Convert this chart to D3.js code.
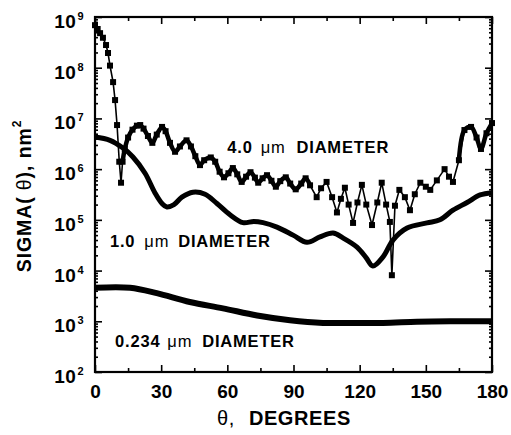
<!DOCTYPE html>
<html><head><meta charset="utf-8">
<script src="https://cdn.jsdelivr.net/npm/d3@7"></script>
<style>
html,body{margin:0;padding:0;background:#fff;}
svg{display:block;}
text{font-family:"Liberation Sans",Arial,Helvetica,sans-serif;fill:#000;}
</style></head>
<body>
<svg id="chart" width="511" height="435"></svg>
<script>
// ---- data ----
const angles4 = [0,1.2,2.3,3.6,5.0,5.9,6.8,8.2,9.1,10.0,11.0,11.8,12.5,13.5,15,17,19,20.5,22,24,26,28,30.4,32,34,36.3,38.5,41.5,43.5,45.5,47.6,49.5,52.5,54.5,56.5,58.5,60.5,62.5,64.5,66.5,68.5,70.5,72.5,74,76,78,80,82,84,86.5,88.5,91,93.5,95.5,97.5,100.5,102.5,105,107.5,109.7,111.5,113.3,115,117,119,121,123,125.6,128,130,132,133.7,134.6,136,138,140.5,142.8,145,147.5,150,152,155,158.5,160.5,162.3,165,167.5,170.5,173,175,177.5,180];
const sigma4 = [6.9e8,5.8e8,4.8e8,3.9e8,2.8e8,1.95e8,1.1e8,5.2e7,2.3e7,7.4e6,1.4e6,5.4e5,1.4e6,2.5e6,4.2e6,6.0e6,7.2e6,7.4e6,6.3e6,4.5e6,3.3e6,4.8e6,6.8e6,5.6e6,3.3e6,2.2e6,2.8e6,3.7e6,2.8e6,1.8e6,1.2e6,1.5e6,1.7e6,1.4e6,8.9e5,6.9e5,8.3e5,1.05e6,7.9e5,5.6e5,7.1e5,8.7e5,6.8e5,5.4e5,6.6e5,7.6e5,5.9e5,4.5e5,5.8e5,6.9e5,5.2e5,4.0e5,5.2e5,6.6e5,4.8e5,2.8e5,4.2e5,5.6e5,2.8e5,1.4e5,2.6e5,4.3e5,2.0e5,8.7e4,2.2e5,4.9e5,2.0e5,7.9e4,2.2e5,5.4e5,2.0e5,9.1e4,8.1e3,1.9e5,3.9e5,2.8e5,1.55e5,3.2e5,5.4e5,4.5e5,3.9e5,6.0e5,1.0e6,7.1e5,5.6e5,1.5e6,5.9e6,6.8e6,4.2e6,2.5e6,5.1e6,8.1e6];

const angles1 = [0,6.8,12.7,17.2,22.7,27.2,30.4,32.6,35.8,39.4,44.4,49.9,55.3,61.2,67.1,72,76.2,82.5,89.8,96.1,102,107.9,112.4,118.8,122.9,126,130.6,135.1,141.5,150.5,156.4,162.3,168.7,174.6,180];
const sigma1 = [4.3e6,3.7e6,2.6e6,1.74e6,8.3e5,3.4e5,2.1e5,1.8e5,2.0e5,2.8e5,3.5e5,3.2e5,2.1e5,1.26e5,8.8e4,9.3e4,8.8e4,7.2e4,5.0e4,3.6e4,4.6e4,5.5e4,4.4e4,2.9e4,1.8e4,1.23e4,1.86e4,4.0e4,6.9e4,8.7e4,1.0e5,1.55e5,2.2e5,3.1e5,3.4e5];

const angles0 = [0,15.9,28,43,58,73.5,88.4,103.4,115.6,130.6,146,161,180];
const sigma0 = [4600,4600,3600,2400,1800,1300,1050,930,930,930,980,1000,1000];

const xMajor = [0,30,60,90,120,150,180];
const xMinor = [15,45,75,105,135,165];
const yExponents = [2,3,4,5,6,7,8,9];

const labels = [
  {num:"4.0", deg:60.0, val:Math.pow(10,6.32), g1:8, g2:11},
  {num:"1.0", deg:6.8, val:Math.pow(10,4.46), g1:9, g2:9},
  {num:"0.234", deg:9.1, val:Math.pow(10,2.49), g1:7, g2:10}
];

// ---- layout ----
const W = 511, H = 435;
const m = {left:95, top:17, right:19, bottom:63};
const svg = d3.select("#chart");
const x = d3.scaleLinear().domain([0,180]).range([m.left, W - m.right]);
const y = d3.scaleLog().domain([1e2,1e9]).range([H - m.bottom, m.top]);

const yMajor = yExponents.map(e => Math.pow(10,e));
const yMinor = [];
for (let e = 2; e < 9; e++) for (let k = 2; k <= 9; k++) yMinor.push(k*Math.pow(10,e));

function styleAxis(g){
  g.select(".domain").remove();
  g.selectAll(".tick line").attr("stroke","#000").attr("stroke-width",1.6);
}

// bottom axis
svg.append("g").attr("transform",`translate(0,${H-m.bottom})`)
  .call(d3.axisBottom(x).tickValues(xMajor).tickSizeInner(-7).tickSizeOuter(0).tickPadding(13).tickFormat(d3.format("d")))
  .call(styleAxis)
  .call(g => g.selectAll(".tick text").attr("font-size",19).attr("font-weight","bold"));
svg.append("g").attr("transform",`translate(0,${H-m.bottom})`)
  .call(d3.axisBottom(x).tickValues(xMinor).tickSizeInner(-4).tickSizeOuter(0).tickFormat(""))
  .call(styleAxis);
// top axis
svg.append("g").attr("transform",`translate(0,${m.top})`)
  .call(d3.axisTop(x).tickValues(xMajor).tickSizeInner(-7).tickSizeOuter(0).tickFormat(""))
  .call(styleAxis);
svg.append("g").attr("transform",`translate(0,${m.top})`)
  .call(d3.axisTop(x).tickValues(xMinor).tickSizeInner(-4).tickSizeOuter(0).tickFormat(""))
  .call(styleAxis);

// left axis
const gl = svg.append("g").attr("transform",`translate(${m.left},0)`)
  .call(d3.axisLeft(y).tickValues(yMajor).tickSizeInner(-7).tickSizeOuter(0).tickPadding(11).tickFormat(""))
  .call(styleAxis);
gl.selectAll(".tick text").each(function(d){
  const t = d3.select(this);
  t.attr("font-size",19).attr("font-weight","bold").attr("dy","0.55em").attr("letter-spacing",0.5);
  t.text("10");
  t.append("tspan").attr("font-size",11).attr("dy",-8).attr("dx",1).text(Math.round(Math.log10(d)));
});
svg.append("g").attr("transform",`translate(${m.left},0)`)
  .call(d3.axisLeft(y).tickValues(yMinor).tickSizeInner(-3).tickSizeOuter(0).tickFormat(""))
  .call(styleAxis);
// right axis
svg.append("g").attr("transform",`translate(${W-m.right},0)`)
  .call(d3.axisRight(y).tickValues(yMajor).tickSizeInner(-7).tickSizeOuter(0).tickFormat(""))
  .call(styleAxis);
svg.append("g").attr("transform",`translate(${W-m.right},0)`)
  .call(d3.axisRight(y).tickValues(yMinor).tickSizeInner(-3).tickSizeOuter(0).tickFormat(""))
  .call(styleAxis);

// frame
svg.append("rect").attr("x",m.left).attr("y",m.top)
  .attr("width",W-m.left-m.right).attr("height",H-m.top-m.bottom)
  .attr("fill","none").attr("stroke","#000").attr("stroke-width",2.2);

// ---- curves ----
const line = d3.line().x(d => x(d[0])).y(d => y(d[1])).curve(d3.curveCatmullRom.alpha(0.5));
const d0 = angles0.map((a,i)=>[a,sigma0[i]]);
const d1 = angles1.map((a,i)=>[a,sigma1[i]]);
const d4 = angles4.map((a,i)=>[a,sigma4[i]]);

const plot = svg.append("g");
plot.append("path").datum(d0).attr("d",line).attr("fill","none").attr("stroke","#000").attr("stroke-width",6);
plot.append("path").datum(d1).attr("d",line).attr("fill","none").attr("stroke","#000").attr("stroke-width",5);

// 4.0 um: thin connecting line through every point, dense marker band where points crowd
const line4 = d3.line().x(d => x(d[0])).y(d => y(d[1]));
plot.append("path").datum(d4).attr("d",line4).attr("fill","none").attr("stroke","#000").attr("stroke-width",1.6);
const bands = [d4.filter(d => d[0] >= 12.5 && d[0] <= 97.5), d4.filter(d => d[0] >= 165)];
bands.forEach(b => {
  plot.append("path").datum(b).attr("d",line).attr("fill","none").attr("stroke","#000")
    .attr("stroke-width",4.5).attr("stroke-linejoin","round");
});
const sq = 6;
plot.selectAll("rect.m4").data(d4).join("rect").attr("class","m4")
  .attr("x",d => x(d[0]) - sq/2).attr("y",d => y(d[1]) - sq/2)
  .attr("width",sq).attr("height",sq).attr("fill","#000");

// ---- series labels ----
labels.forEach(L => {
  const t = svg.append("text").attr("x",x(L.deg)).attr("y",y(L.val))
    .attr("font-size",16.5).attr("font-weight","bold").attr("letter-spacing",0.8);
  t.append("tspan").text(L.num);
  t.append("tspan").attr("dx",L.g1).attr("font-weight","normal").text("\u03bcm");
  t.append("tspan").attr("dx",L.g2).text("DIAMETER");
});

// ---- axis titles ----
const xt = svg.append("text").attr("x",217).attr("y",425).attr("font-size",20).attr("font-weight","bold").attr("letter-spacing",0.6);
xt.append("tspan").attr("font-weight","normal").text("\u03b8,");
xt.append("tspan").attr("dx",14).text("DEGREES");

const yt = svg.append("text").attr("transform","translate(31,196) rotate(-90)")
  .attr("text-anchor","middle").attr("font-size",19.5).attr("font-weight","bold").attr("letter-spacing",0.9);
yt.append("tspan").text("SIGMA(");
yt.append("tspan").attr("font-weight","normal").text(" \u03b8");
yt.append("tspan").text("), nm");
yt.append("tspan").attr("font-size",12).attr("dy",-10).text("2");
</script>
</body></html>
